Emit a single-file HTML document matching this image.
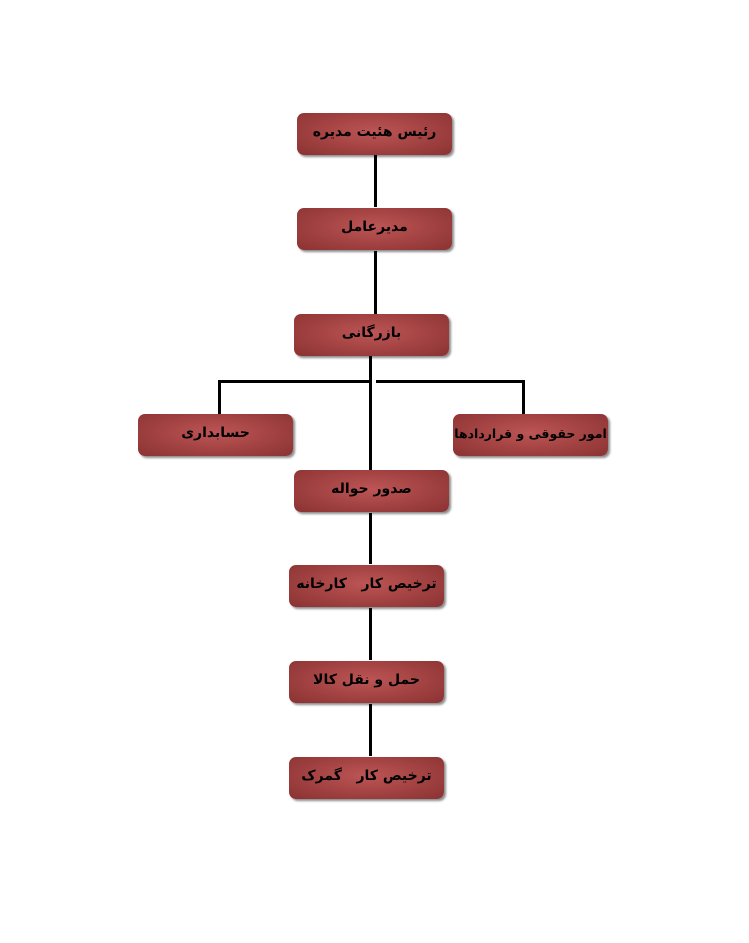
<!DOCTYPE html>
<html><head><meta charset="utf-8"><style>
body{margin:0;width:749px;height:943px;background:#fff;position:relative;overflow:hidden}
.b{position:absolute;width:155px;height:42px;border-radius:7px;
background:radial-gradient(ellipse at 50% 45%,#bd5555 0%,#a44343 50%,#8a3232 100%);
box-shadow:2px 2px 2px rgba(0,0,0,.45);
font:bold 14px "DejaVu Sans","Liberation Sans",sans-serif;color:#000;display:flex;align-items:center;justify-content:center;direction:rtl;white-space:nowrap;padding-bottom:4px;box-sizing:border-box}
.l{position:absolute;background:#000}
</style></head><body>
<div class="l" style="left:374px;top:155px;width:3px;height:52px"></div>
<div class="l" style="left:374px;top:251px;width:3px;height:63px"></div>
<div class="l" style="left:369px;top:356px;width:3px;height:114px"></div>
<div class="l" style="left:218px;top:380px;width:153px;height:3px"></div>
<div class="l" style="left:376px;top:380px;width:149px;height:3px"></div>
<div class="l" style="left:218px;top:380px;width:3px;height:34px"></div>
<div class="l" style="left:522px;top:380px;width:3px;height:34px"></div>
<div class="l" style="left:369px;top:513px;width:3px;height:51px"></div>
<div class="l" style="left:369px;top:608px;width:3px;height:52px"></div>
<div class="l" style="left:369px;top:704px;width:3px;height:52px"></div>
<div class="b" style="left:297px;top:113px">رئیس هئیت مدیره</div>
<div class="b" style="left:297px;top:208px">مدیرعامل</div>
<div class="b" style="left:294px;top:314px">بازرگانی</div>
<div class="b" style="left:138px;top:414px">حسابداری</div>
<div class="b" style="left:453px;top:414px;font-size:12.5px;letter-spacing:-0.4px">امور حقوقی و قراردادها</div>
<div class="b" style="left:294px;top:470px">صدور حواله</div>
<div class="b" style="left:289px;top:565px">ترخیص کار&nbsp;&nbsp;&nbsp;کارخانه</div>
<div class="b" style="left:289px;top:661px">حمل و نقل کالا</div>
<div class="b" style="left:289px;top:757px">ترخیص کار&nbsp;&nbsp;&nbsp;گمرک</div>
</body></html>
